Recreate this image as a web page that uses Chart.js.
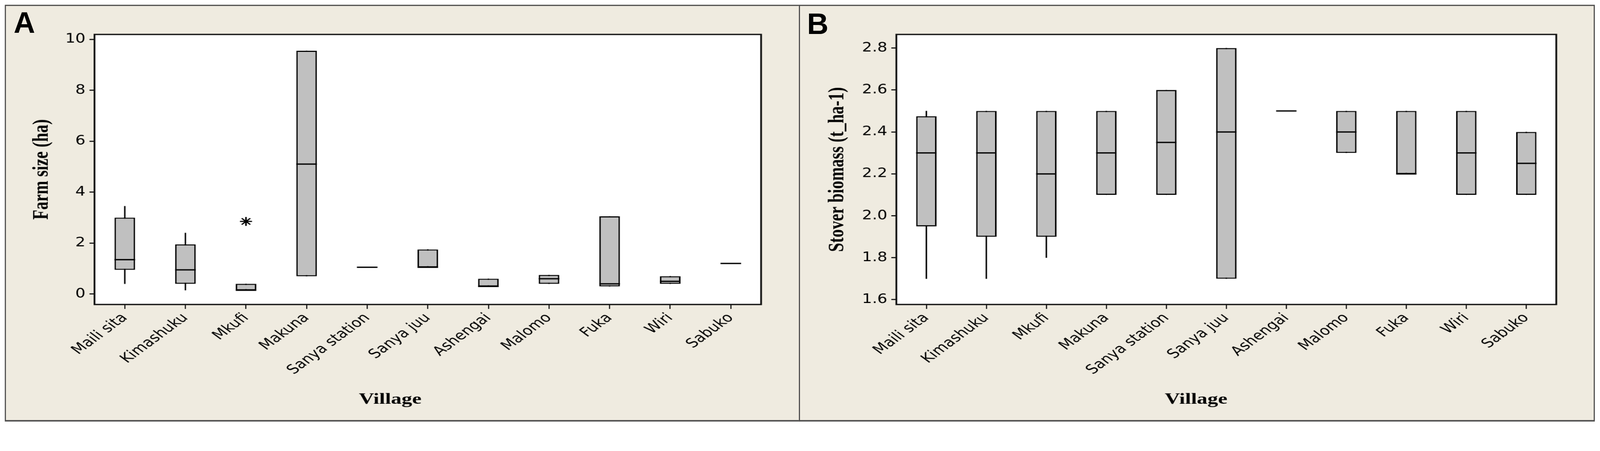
<!DOCTYPE html>
<html>
<head>
<meta charset="utf-8">
<script src="https://cdn.jsdelivr.net/npm/chart.js@4/dist/chart.umd.min.js"></script>
<style>
html, body { margin: 0; padding: 0; background: #fff; overflow: hidden; }
#fig { position: absolute; left: 0; top: 0; width: 4318px; height: 1155px; transform-origin: 0 0; background: #fff; }
.panel { position: absolute; top: 13px; height: 1125px; box-sizing: border-box; border: 3px solid #4b4b4b; border-bottom-width: 4px; background: #efebe0; overflow: hidden; }
.panel canvas { position: absolute; left: 0; top: 0; transform-origin: 0 0; }
.tag { position: absolute; font: bold 80px "Liberation Sans", Arial, sans-serif; line-height: 1; color: #000; }
</style>
</head>
<body>
<div id="fig">
  <div class="panel" style="left:13px;width:2146px"><canvas id="chartA"></canvas></div>
  <div class="panel" style="left:2156px;width:2148px"><canvas id="chartB"></canvas></div>
  <div class="tag" style="left:37px;top:22px">A</div>
  <div class="tag" style="left:2178px;top:25px">B</div>
</div>
<script>
const villages = ['Maili sita', 'Kimashuku', 'Mkufi', 'Makuna', 'Sanya station', 'Sanya juu',
                  'Ashengai', 'Malomo', 'Fuka', 'Wiri', 'Sabuko'];

// A: farm size (ha)
const farmLow     = [0.4, 0.15, 0.15, 0.7, 1.05, 1.05, 0.3, 0.4, 0.3, 0.4, 1.2];
const farmQ1      = [0.95, 0.4, 0.15, 0.7, 1.05, 1.05, 0.3, 0.4, 0.3, 0.4, 1.2];
const farmMedian  = [1.35, 0.95, 0.15, 5.1, 1.05, 1.05, 0.3, 0.6, 0.4, 0.5, 1.2];
const farmQ3      = [3.0, 1.95, 0.4, 9.55, 1.05, 1.75, 0.6, 0.75, 3.05, 0.7, 1.2];
const farmHigh    = [3.45, 2.4, 0.4, 9.55, 1.05, 1.75, 0.6, 0.75, 3.05, 0.7, 1.2];
const farmOutlier = [null, null, 2.85, null, null, null, null, null, null, null, null];
const farmTicks   = [0, 2, 4, 6, 8, 10];

// B: stover biomass (t/ha)
const stoverLow    = [1.7, 1.7, 1.8, 2.1, 2.1, 1.7, 2.5, 2.3, 2.2, 2.1, 2.1];
const stoverQ1     = [1.95, 1.9, 1.9, 2.1, 2.1, 1.7, 2.5, 2.3, 2.2, 2.1, 2.1];
const stoverMedian = [2.3, 2.3, 2.2, 2.3, 2.35, 2.4, 2.5, 2.4, 2.2, 2.3, 2.25];
const stoverQ3     = [2.475, 2.5, 2.5, 2.5, 2.6, 2.8, 2.5, 2.5, 2.5, 2.5, 2.4];
const stoverHigh   = [2.5, 2.5, 2.5, 2.5, 2.6, 2.8, 2.5, 2.5, 2.5, 2.5, 2.4];
const stoverTicks  = [1.6, 1.8, 2.0, 2.2, 2.4, 2.6, 2.8];

// fit the 4318x1155 figure to whatever viewport we get
const fig = document.getElementById('fig');
const fit = Math.min(window.innerWidth / 4318, window.innerHeight / 1155) || 1;
fig.style.transform = 'scale(' + fit + ')';

// the original figure is stretched sideways, so the canvas is drawn narrow and scaled up
const STRETCH = 1.36;
const BOX_FRAC = 0.34;
const sansFont = '"DejaVu Sans Condensed", "DejaVu Sans", sans-serif';
const serifFont = '"Liberation Serif", "Times New Roman", serif';

// white plot area with a black frame
const plotFrame = {
  id: 'plotFrame',
  beforeDraw(chart) {
    const { ctx, chartArea: a } = chart;
    ctx.save();
    ctx.fillStyle = '#fff';
    ctx.fillRect(a.left, a.top, a.width, a.height);
    ctx.restore();
  },
  afterDraw(chart) {
    const { ctx, chartArea: a } = chart;
    ctx.save();
    ctx.strokeStyle = '#111';
    ctx.lineWidth = 3.5;
    ctx.strokeRect(a.left, a.top, a.width, a.height);
    ctx.restore();
  }
};

// x axis title sits left of the plot centre in the original
const xTitle = {
  id: 'xTitle',
  afterDraw(chart, args, opts) {
    const ctx = chart.ctx;
    ctx.save();
    ctx.font = 'bold 42px ' + serifFont;
    ctx.fillStyle = '#000';
    ctx.textAlign = 'center';
    ctx.textBaseline = 'alphabetic';
    ctx.fillText(opts.text, opts.x, opts.y);
    ctx.restore();
  }
};

function halfBox(chart) {
  return chart.scales.x.width / villages.length * BOX_FRAC / 2;
}

function boxChart(id, o) {
  const canvas = document.getElementById(id);
  const panel = canvas.parentElement;
  const innerW = panel.clientWidth, innerH = panel.clientHeight;
  const w = Math.round(innerW / STRETCH), k = innerW / w;
  canvas.width = w;
  canvas.height = innerH;
  canvas.style.width = w + 'px';
  canvas.style.height = innerH + 'px';
  canvas.style.transform = 'scaleX(' + k + ')';

  const ox = panel.offsetLeft + panel.clientLeft, oy = panel.offsetTop + panel.clientTop;
  const left = (o.plot.left - ox) / k, right = (o.plot.right - ox) / k;
  const top = o.plot.top - oy, bottom = o.plot.bottom - oy;

  return new Chart(canvas, {
    data: {
      labels: villages,
      datasets: [
        {
          type: 'line', label: 'Median', data: o.median, showLine: false,
          pointStyle: 'line', pointRadius: ctx => halfBox(ctx.chart), pointHoverRadius: ctx => halfBox(ctx.chart),
          pointBorderWidth: 3.5, pointBorderColor: '#000', order: 0
        },
        {
          type: 'line', label: 'Outlier', data: o.outlier, showLine: false,
          pointStyle: 'star', pointRadius: 12, pointBorderWidth: 3, pointBorderColor: '#000', order: 0
        },
        {
          type: 'bar', label: 'IQR', data: o.q1.map((v, i) => [v, o.q3[i]]),
          backgroundColor: '#c0c0c0', borderColor: '#000', borderWidth: 3, borderSkipped: false,
          barPercentage: BOX_FRAC, categoryPercentage: 1, grouped: false, order: 1
        },
        {
          type: 'bar', label: 'Whisker', data: o.low.map((v, i) => [v, o.high[i]]),
          backgroundColor: '#000', borderWidth: 0, barThickness: 3 / k, grouped: false, order: 2
        }
      ]
    },
    options: {
      responsive: false,
      animation: false,
      events: [],
      layout: { padding: { left: 0, top: top, right: w - right, bottom: 0 } },
      plugins: {
        legend: { display: false },
        tooltip: { enabled: false },
        xTitle: { text: 'Village', x: (o.xTitleX - ox) / k, y: o.xTitleY - oy }
      },
      scales: {
        x: {
          type: 'category',
          offset: true,
          border: { display: false },
          grid: { offset: false, drawOnChartArea: false, tickLength: 12, lineWidth: 3 / k, color: '#111' },
          ticks: { autoSkip: false, minRotation: 45, maxRotation: 45, padding: 4, color: '#000', font: { family: sansFont, size: 35 } },
          afterFit: s => { s.height = innerH - bottom; }
        },
        y: {
          min: o.min, max: o.max,
          border: { display: false },
          grid: { drawOnChartArea: false, tickLength: 10, lineWidth: 3, color: '#111' },
          afterBuildTicks: s => { s.ticks = o.ticks.map(v => ({ value: v })); },
          ticks: { padding: 8, color: '#000', font: { family: sansFont, size: 35 }, callback: o.format },
          title: {
            display: true, text: o.yTitle, color: '#000',
            font: { family: serifFont, weight: 'bold', size: 44 },
            padding: { top: (o.yTitleX - ox) / k - 26.4, bottom: 0 }
          },
          afterFit: s => { s.width = left; }
        }
      }
    },
    plugins: [plotFrame, xTitle]
  });
}

boxChart('chartA', {
  low: farmLow, q1: farmQ1, median: farmMedian, q3: farmQ3, high: farmHigh, outlier: farmOutlier,
  ticks: farmTicks, min: -0.41, max: 10.19, format: v => String(v),
  yTitle: 'Farm size (ha)', yTitleX: 114, xTitleX: 1053, xTitleY: 1090,
  plot: { left: 255, right: 2054, top: 93, bottom: 822 }
});

boxChart('chartB', {
  low: stoverLow, q1: stoverQ1, median: stoverMedian, q3: stoverQ3, high: stoverHigh,
  outlier: villages.map(() => null),
  ticks: stoverTicks, min: 1.577, max: 2.865, format: v => v.toFixed(1),
  yTitle: 'Stover biomass (t_ha-1)', yTitleX: 2260, xTitleX: 3228, xTitleY: 1090,
  plot: { left: 2419, right: 4200, top: 93, bottom: 822 }
});
</script>
</body>
</html>
